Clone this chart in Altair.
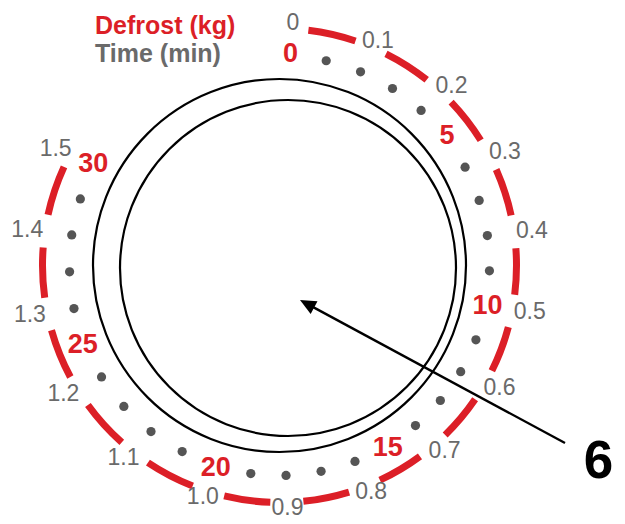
import math
import numpy as np
import altair as alt
import pandas as pd

# ---- data ----
kg_values = [0.0, 0.1, 0.2, 0.3, 0.4, 0.5, 0.6, 0.7, 0.8, 0.9, 1.0, 1.1, 1.2, 1.3, 1.4, 1.5]
kg_labels = ["0", "0.1", "0.2", "0.3", "0.4", "0.5", "0.6", "0.7", "0.8", "0.9",
             "1.0", "1.1", "1.2", "1.3", "1.4", "1.5"]
minute_values = list(range(0, 31))
minute_label_values = [0, 5, 10, 15, 20, 25, 30]
minute_labels = ["0", "5", "10", "15", "20", "25", "30"]
legend_texts = ["Defrost (kg)", "Time (min)"]
callout_texts = ["6"]

# ---- dial calibration (kg -> degrees clockwise from 12 o'clock); 30 min == 1.5 kg ----
KG_KNOTS = [0.0, 0.4, 1.0, 1.5]
DEG_KNOTS = [3.0, 81.8, 197.5, 298.6]
MIN_PER_KG = 20.0


def deg_of_kg(v):
    return np.interp(v, KG_KNOTS, DEG_KNOTS)


# ---- layout / style constants ----
GAP = 4.0           # half gap of red dashes around each kg label
R_DASH_OUT, R_DASH_IN = 240.5, 233.5
R_DOT = 210
R_RED = 212
RX_GREY, RY_GREY = 255, 243
RED = "#dc1f27"
GREY = "#6a6a6a"
DOT = "#555555"
FONT = "Liberation Sans"

W, H = 609, 516
CX, CY = 271.5, 257.5   # dial centre inside the plot area (px)
XS = alt.Scale(domain=[-CX, W - CX], nice=False, zero=False)
YS = alt.Scale(domain=[CY - H, CY], nice=False, zero=False)


def X(f):
    return alt.X(f, type="quantitative", scale=XS, axis=None)


def Y(f):
    return alt.Y(f, type="quantitative", scale=YS, axis=None)


kg_df = pd.DataFrame({"kg": kg_values, "label": kg_labels})
kg_df["deg"] = deg_of_kg(kg_df["kg"])
dash_df = pd.DataFrame({"k0": kg_values[:-1], "k1": kg_values[1:]})
dash_df["a0"] = deg_of_kg(dash_df["k0"]) + GAP
dash_df["a1"] = deg_of_kg(dash_df["k1"]) - GAP
dot_df = pd.DataFrame({"m": [m for m in minute_values if m % 5 != 0]})
dot_df["deg"] = deg_of_kg(dot_df["m"] / MIN_PER_KG)
red_df = pd.DataFrame({"m": minute_label_values, "label": minute_labels})
red_df["deg"] = deg_of_kg(red_df["m"] / MIN_PER_KG)

rad = "datum.deg*PI/180"

# red dashes
dashes = alt.Chart(dash_df).transform_calculate(
    cx="0", cy="0",
).mark_arc(radius=R_DASH_OUT, radius2=R_DASH_IN, color=RED).encode(
    x=X("cx"), y=Y("cy"),
    theta=alt.Theta("a0:Q", scale=alt.Scale(domain=[0, 360], range=[0, 2 * math.pi]), stack=False),
    theta2="a1:Q",
)

# grey kg labels
grey_labels = alt.Chart(kg_df).transform_calculate(
    px=f"{RX_GREY}*sin({rad})", py=f"{RY_GREY}*cos({rad})"
).mark_text(font=FONT, fontSize=23, color=GREY, align="center", baseline="middle").encode(
    x=X("px"), y=Y("py"), text="label:N"
)

# minute dots
dots = alt.Chart(dot_df).transform_calculate(
    px=f"{R_DOT}*sin({rad})", py=f"{R_DOT}*cos({rad})"
).mark_circle(size=85, color=DOT, opacity=1).encode(x=X("px"), y=Y("py"))

# red minute labels
red_labels = alt.Chart(red_df).transform_calculate(
    px=f"{R_RED}*sin({rad})", py=f"{R_RED}*cos({rad})"
).mark_text(font=FONT, fontSize=27, fontWeight="bold", color=RED, align="center", baseline="middle").encode(
    x=X("px"), y=Y("py"), text="label:N"
)

# black rings
rings_df = pd.DataFrame({"rx": [0.0, 8.5], "ry": [0.0, -2.5], "d": [373, 336]})
rings = alt.Chart(rings_df).transform_calculate(s="datum.d*datum.d").mark_point(
    shape="circle", filled=False, color="black", strokeWidth=2.2, opacity=1
).encode(x=X("rx"), y=Y("ry"), size=alt.Size("s:Q", scale=None, legend=None))

# legend texts
leg_df1 = pd.DataFrame({"t": [legend_texts[0]]})
leg_df2 = pd.DataFrame({"t": [legend_texts[1]]})
leg1 = alt.Chart(leg_df1).mark_text(font=FONT, fontSize=25, fontWeight="bold", color=RED,
                                    align="left", baseline="alphabetic").encode(
    x=alt.X(datum=-184.5, scale=XS, axis=None), y=alt.Y(datum=231.5, scale=YS, axis=None), text="t:N")
leg2 = alt.Chart(leg_df2).mark_text(font=FONT, fontSize=25, fontWeight="bold", color=GREY,
                                    align="left", baseline="alphabetic").encode(
    x=alt.X(datum=-184.5, scale=XS, axis=None), y=alt.Y(datum=203.5, scale=YS, axis=None), text="t:N")

# callout arrow and number
tail = (285.5, -177.5)
tip = (20.5, -34.5)
ang = math.degrees(math.atan2(tip[0] - tail[0], tip[1] - tail[1])) % 360
call_df = pd.DataFrame({"t": callout_texts})
arrow_line = alt.Chart(call_df).mark_rule(color="black", strokeWidth=2.4).encode(
    x=alt.X(datum=tail[0], scale=XS, axis=None), y=alt.Y(datum=tail[1], scale=YS, axis=None),
    x2=alt.X2(datum=tip[0] + 6 * math.sin(math.radians(ang + 180))),
    y2=alt.Y2(datum=tip[1] + 6 * math.cos(math.radians(ang + 180))),
)
arrow_head = alt.Chart(call_df).mark_point(
    shape="M0,0L-0.9,2L0.9,2Z", size=256, filled=True, color="black", opacity=1,
    strokeWidth=0, angle=ang
).encode(x=alt.X(datum=tip[0], scale=XS, axis=None), y=alt.Y(datum=tip[1], scale=YS, axis=None))
callout = alt.Chart(call_df).mark_text(font=FONT, fontSize=53, fontWeight="bold", color="black",
                                       align="center", baseline="middle").encode(
    x=alt.X(datum=319, scale=XS, axis=None), y=alt.Y(datum=-196, scale=YS, axis=None), text="t:N")

chart = alt.layer(
    rings, dashes, dots, grey_labels, red_labels, leg1, leg2, arrow_line, arrow_head, callout
).properties(width=W, height=H, padding=0, autosize=alt.AutoSizeParams(type="none")).configure_view(
    stroke=None
)

chart.save("out.html", embed_options={"renderer": "svg", "actions": False})
